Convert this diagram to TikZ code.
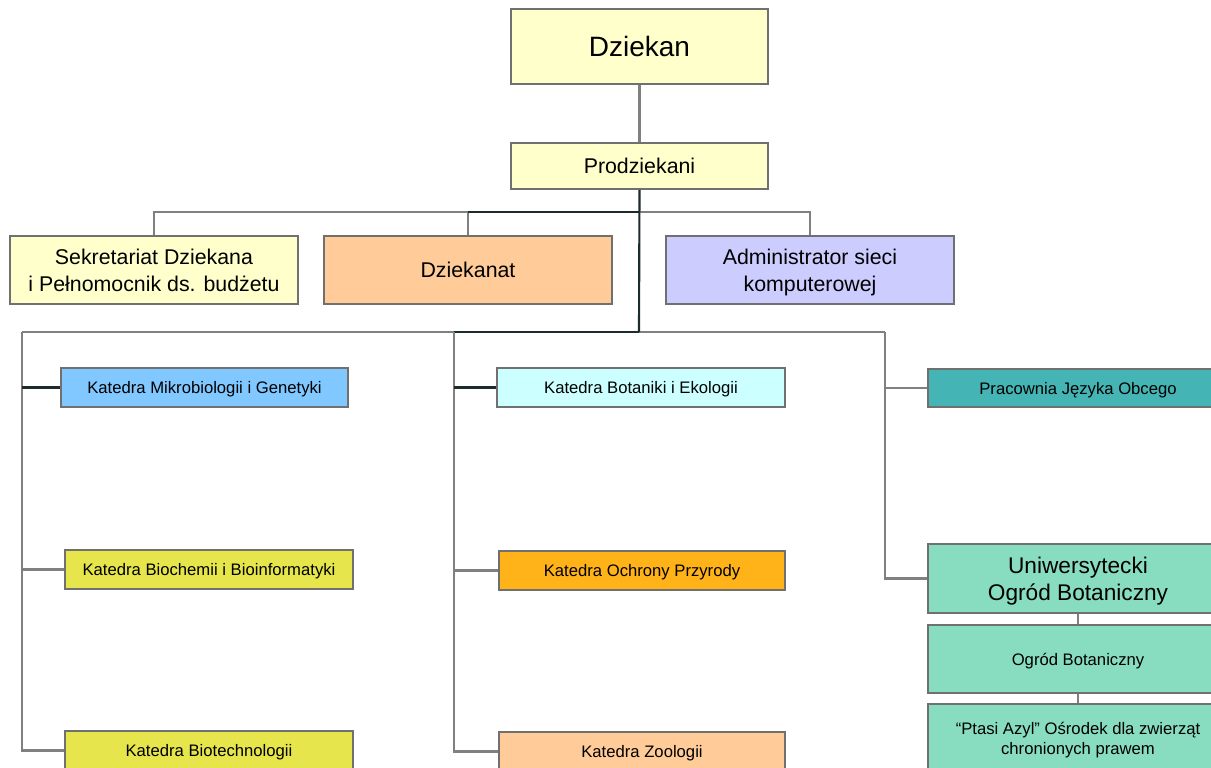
\documentclass[tikz,border=0pt]{standalone}
\usepackage{fontspec}
\setmainfont{Liberation Sans}
\definecolor{cream}{HTML}{FFFFCC}
\definecolor{peach}{HTML}{FFCC99}
\definecolor{lilac}{HTML}{CCCCFF}
\definecolor{skyb}{HTML}{80C8FF}
\definecolor{icecy}{HTML}{CCFFFF}
\definecolor{lemon}{HTML}{E6E64C}
\definecolor{amber}{HTML}{FFB319}
\definecolor{teal2}{HTML}{44B4B4}
\definecolor{mint}{HTML}{88DDC1}
\definecolor{edge}{HTML}{707070}
\definecolor{conn}{HTML}{808080}
\definecolor{trunk}{HTML}{1C2B2B}
\tikzset{
  bx/.style 2 args={draw=edge, line width=1.4pt, inner sep=0pt, align=center,
    text depth=0pt, minimum width=0.75*#1pt, minimum height=0.75*#2pt},
  fbig/.style={font=\fontsize{16}{20}\selectfont},
  fsmall/.style={font=\fontsize{12.5}{15}\selectfont},
  gline/.style={draw=conn, line width=1.6pt},
  dline/.style={draw=trunk, line width=1.6pt},
}
\begin{document}
\begin{tikzpicture}[x=0.75pt,y=-0.75pt]
\clip (0,0) rectangle (1211,768);
\fill[white] (0,0) rectangle (1211,768);
% top
\node[bx={257}{75}, fill=cream, font=\fontsize{21}{25}\selectfont] (dz) at (639.5,46.5) {Dziekan};
\node[bx={257}{46}, fill=cream, fbig] (pd) at (639.5,166) {Prodziekani};
\node[bx={288}{68}, fill=cream, fbig] (sek) at (154,270) {Sekretariat Dziekana\\i Pełnomocnik ds. budżetu};
\node[bx={288}{68}, fill=peach, fbig] (dzt) at (468,270) {Dziekanat};
\node[bx={288}{68}, fill=lilac, fbig] (adm) at (810,270) {Administrator sieci\\komputerowej};
% left column
\node[bx={287}{39}, fill=skyb, fsmall] (mik) at (204.5,387.5) {Katedra Mikrobiologii i Genetyki};
\node[bx={288}{39}, fill=lemon, fsmall] (bio) at (209,569.5) {Katedra Biochemii i Bioinformatyki};
\node[bx={288}{39}, fill=lemon, fsmall] (bt) at (209,750.5) {Katedra Biotechnologii};
% middle column
\node[bx={288}{39}, fill=icecy, fsmall] (bot) at (641,387.5) {Katedra Botaniki i Ekologii};
\node[bx={286}{39}, fill=amber, fsmall] (och) at (642,570.5) {Katedra Ochrony Przyrody};
\node[bx={286}{39}, fill=peach, fsmall] (zoo) at (642,751.5) {Katedra Zoologii};
% right column
\node[bx={300}{38}, fill=teal2, fsmall] (pjo) at (1078,388) {Pracownia Języka Obcego};
\node[bx={300}{69}, fill=mint, font=\fontsize{17}{20}\selectfont] (uob) at (1078,578.5) {Uniwersytecki\\Ogród Botaniczny};
\node[bx={300}{68}, fill=mint, fsmall] (ogb) at (1078,659) {Ogród Botaniczny};
\node[bx={300}{68}, fill=mint, fsmall] (pta) at (1078,738) {“Ptasi Azyl” Ośrodek dla zwierząt\\chronionych prawem};
% junction coordinates
\coordinate (j1) at (639,212);
\coordinate (j2) at (639,332);
\coordinate (L0) at (22,332);
\coordinate (M0) at (454,332);
\coordinate (R0) at (885,332);
% connectors
\draw[gline] (dz.south) -- (pd.north);
\draw[gline] (sek.north) |- (j1);
\draw[gline] (adm.north) |- (j1);
\draw[gline] (dzt.north) -- (dzt.north |- j1);
\draw[dline] (dzt.north |- j1) -- (j1);
\draw[gline] (L0) -- (j2) -- (R0);
\draw[dline] (M0) -- (j2);
\draw[dline] (pd.south) -- (j2);
\draw[gline] (L0) |- (bt.west);
\draw[gline] (L0 |- bio.west) -- (bio.west);
\draw[dline] (L0 |- mik.west) -- (mik.west);
\draw[gline] (M0) |- (zoo.west);
\draw[gline] (M0 |- och.west) -- (och.west);
\draw[dline] (M0 |- bot.west) -- (bot.west);
\draw[gline] (R0) |- (uob.west);
\draw[gline] (R0 |- pjo.west) -- (pjo.west);
\draw[gline] (uob.south) -- (ogb.north);
\draw[gline] (ogb.south) -- (pta.north);
\end{tikzpicture}
\end{document}
